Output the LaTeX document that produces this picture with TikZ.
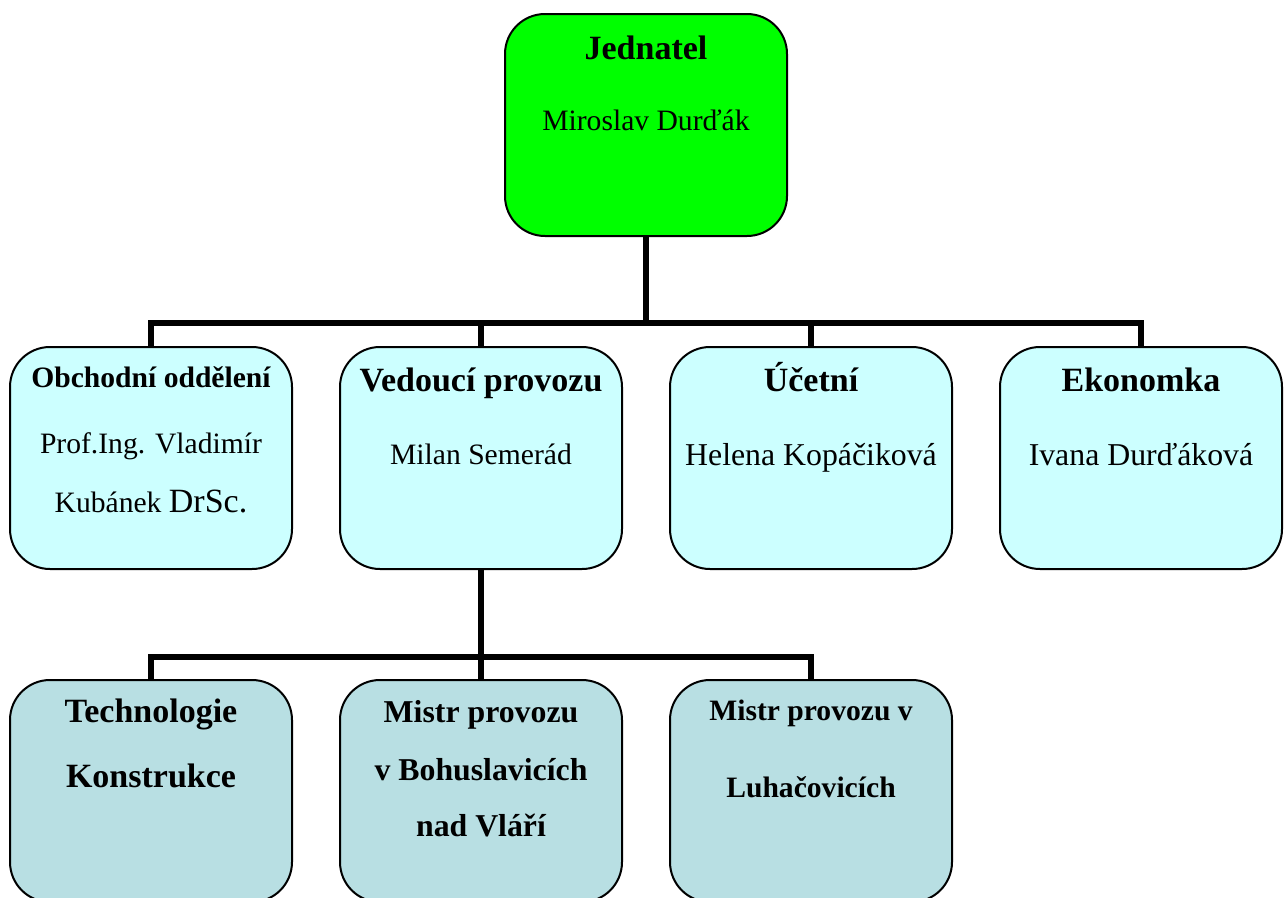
\documentclass[tikz,border=0pt]{standalone}
\usepackage{fontspec}
\setmainfont{Liberation Serif}
\definecolor{topgreen}{HTML}{00FF00}
\definecolor{midcyan}{HTML}{CCFFFF}
\definecolor{lowblue}{HTML}{B8DFE3}
\tikzset{
  box/.style={draw=black, line width=2pt, rounded corners=40pt, minimum width=282pt, minimum height=222pt, inner sep=0pt},
  conn/.style={draw=black, line width=6pt},
  tb/.style={anchor=base, inner sep=0pt, font=\bfseries\fontsize{34}{40}\selectfont},
  tbs/.style={anchor=base, inner sep=0pt, font=\bfseries\fontsize{29.6}{36}\selectfont},
  tbm/.style={anchor=base, inner sep=0pt, font=\bfseries\fontsize{31.8}{38}\selectfont},
  tr/.style={anchor=base, inner sep=0pt, font=\fontsize{29.6}{36}\selectfont},
  trm/.style={anchor=base, inner sep=0pt, font=\fontsize{31.8}{38}\selectfont}
}
\begin{document}
\begin{tikzpicture}[x=1pt,y=-1pt]
\useasboundingbox (0,0) rectangle (1287,897);
\clip (0,0) rectangle (1287,897);
\fill[white] (0,0) rectangle (1287,897);
% boxes
\node[box, fill=topgreen] (top) at (646,125) {};
\node[box, fill=midcyan] (ob) at (151,458) {};
\node[box, fill=midcyan] (ved) at (481,458) {};
\node[box, fill=midcyan] (uc) at (811,458) {};
\node[box, fill=midcyan] (ek) at (1141,458) {};
\node[box, fill=lowblue] (tech) at (151,791) {};
\node[box, fill=lowblue] (bohu) at (481,791) {};
\node[box, fill=lowblue] (luha) at (811,791) {};
% connectors
\coordinate (bar1) at (646,323);
\coordinate (bar2) at (481,657);
\draw[conn] (top.south) -- (bar1);
\draw[conn] (ob.north) -- (ob.north |- bar1) -- (ek.north |- bar1) -- (ek.north);
\draw[conn] (ved.north) -- (ved.north |- bar1);
\draw[conn] (uc.north) -- (uc.north |- bar1);
\draw[conn] (ved.south) -- (bar2);
\draw[conn] (tech.north) -- (tech.north |- bar2) -- (luha.north |- bar2) -- (luha.north);
\draw[conn] (bohu.north) -- (bohu.north |- bar2);
% texts
\node[tb] (t1) at (646,59) {Jednatel};
\node[tr] (t2) at (646,130) {Miroslav Durďák};
\node[tbs] (o1) at (151,387) {Obchodní oddělení};
\node[tr] (o2) at (151,453) {Prof.Ing. Vladimír};
\node[tr] (o3) at (151,512) {Kubánek {\fontsize{34}{40}\selectfont DrSc.}};
\node[tb] (v1) at (481,391) {Vedoucí provozu};
\node[tr] (v2) at (481,464) {Milan Semerád};
\node[tb] (u1) at (811,391) {Účetní};
\node[trm] (u2) at (811,465) {Helena Kopáčiková};
\node[tb] (e1) at (1141,391) {Ekonomka};
\node[trm] (e2) at (1141,465) {Ivana Durďáková};
\node[tb] (k1) at (151,722) {Technologie};
\node[tb] (k2) at (151,787) {Konstrukce};
\node[tbm] (b1) at (481,722) {Mistr provozu};
\node[tbm] (b2) at (481,780) {v Bohuslavicích};
\node[tbm] (b3) at (481,836) {nad Vláří};
\node[tbs] (l1) at (811,720) {Mistr provozu v};
\node[tbs] (l2) at (811,797) {Luhačovicích};
\end{tikzpicture}
\end{document}
